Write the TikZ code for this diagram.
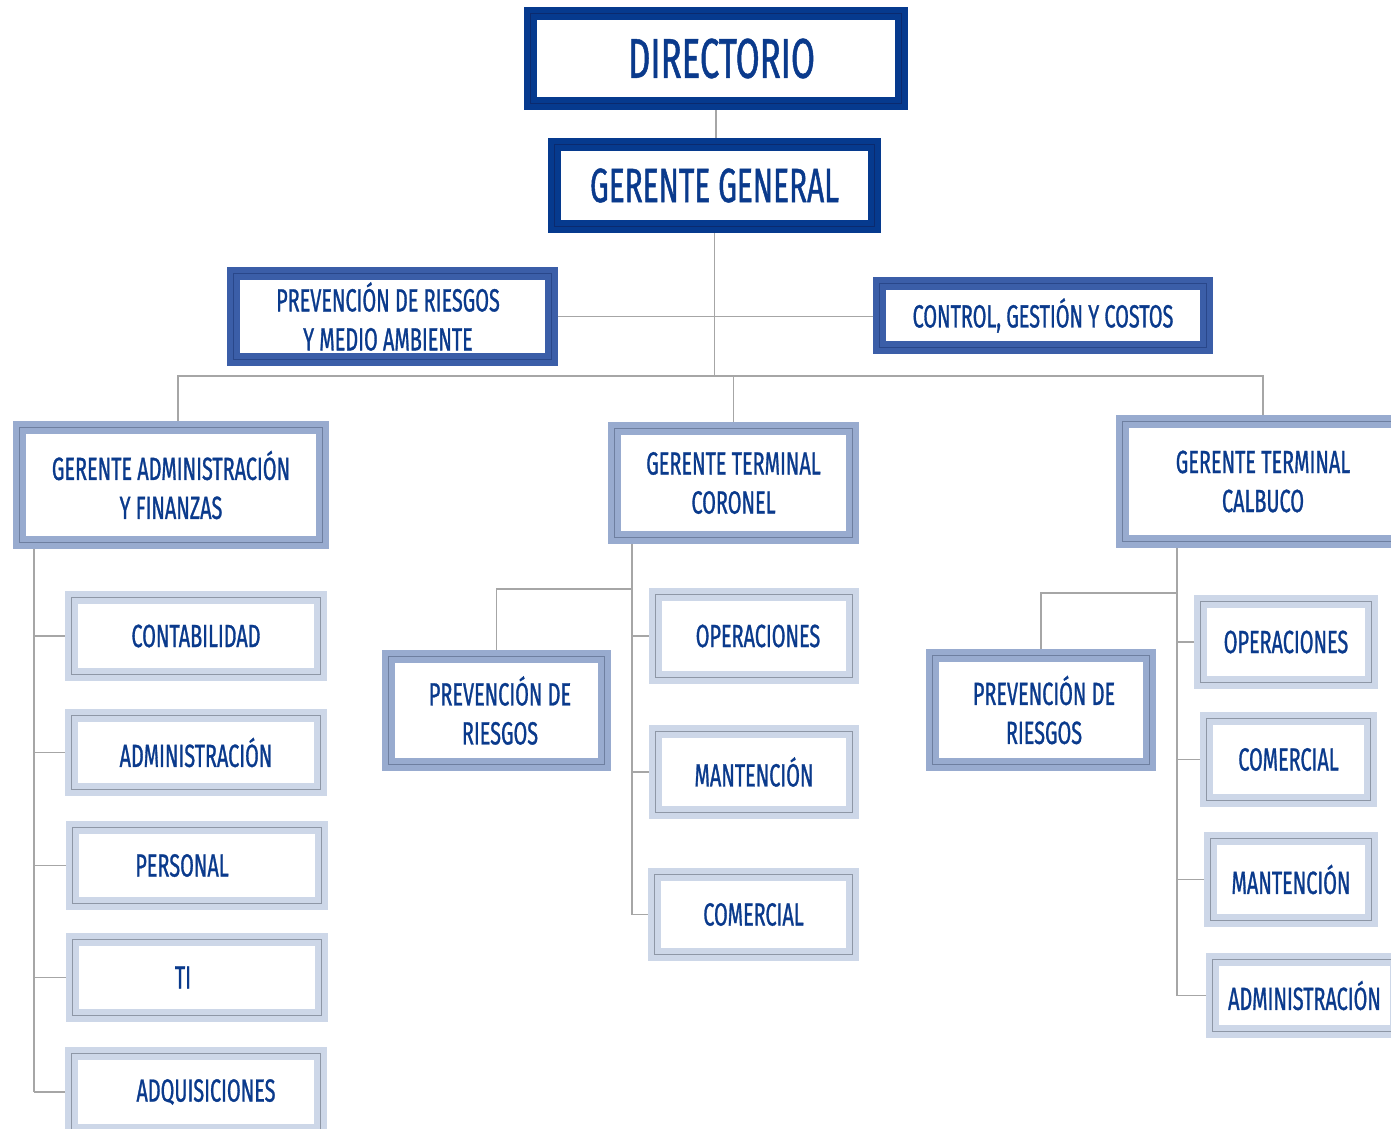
\documentclass[tikz,border=0pt]{standalone}
\usepackage{fontspec}
\newfontfamily\orgfont[FakeStretch=0.62,FakeBold=0.9]{Fira Sans}
\usepackage{tikz}
\usetikzlibrary{positioning,calc,backgrounds}
\definecolor{txtblue}{HTML}{0A3A8C}
\definecolor{bandA}{HTML}{063A8E}
\definecolor{lineA}{HTML}{0B2A6E}
\definecolor{bandB}{HTML}{3B5EA8}
\definecolor{lineB}{HTML}{29478A}
\definecolor{bandC}{HTML}{98ABCF}
\definecolor{lineC}{HTML}{6E7FA0}
\definecolor{bandD}{HTML}{CDD7E8}
\definecolor{lineD}{HTML}{8E97A6}
\definecolor{wire}{HTML}{A6A6A6}
\tikzset{
  orgbox/.style={rectangle, fill=white, line width=13pt, inner sep=0pt, text=txtblue,
    align=center, font=\orgfont\fontsize{32}{39}\selectfont},
  lvlA/.style={orgbox, draw=bandA, postaction={draw=lineA, line width=1pt}},
  lvlB/.style={orgbox, draw=bandB, postaction={draw=lineB, line width=1pt}},
  lvlC/.style={orgbox, draw=bandC, postaction={draw=lineC, line width=1pt}},
  lvlD/.style={orgbox, draw=bandD, postaction={draw=lineD, line width=1pt}},
  wire/.style={draw=wire, line width=1.3pt},
}
\begin{document}
\begin{tikzpicture}[x=1pt,y=-1pt]
  \useasboundingbox (0,0) rectangle (1391,1128);
  % top
  \node[lvlA, minimum width=371pt, minimum height=90pt, font=\orgfont\fontsize{56}{60}\selectfont] (dir) at (716,58.5) {\kern11pt DIRECTORIO};
  \node[lvlA, minimum width=320pt, minimum height=82pt, font=\orgfont\fontsize{48}{52}\selectfont] (gg) at (714.5,185.5) {GERENTE GENERAL};
  \node[lvlB, minimum width=318pt, minimum height=86pt] (prev) at (392.5,316.5) {\kern-9pt PREVENCIÓN DE RIESGOS\\\kern-9pt Y MEDIO AMBIENTE};
  \node[lvlB, minimum width=327pt, minimum height=64pt] (ctrl) at (1043,315.5) {CONTROL, GESTIÓN Y COSTOS};
  % gerentes
  \node[lvlC, minimum width=303pt, minimum height=115pt] (gaf) at (171,485) {GERENTE ADMINISTRACIÓN\\Y FINANZAS};
  \node[lvlC, minimum width=238pt, minimum height=109pt] (gtco) at (733.5,483) {GERENTE TERMINAL\\CORONEL};
  \node[lvlC, minimum width=281pt, minimum height=120pt] (gtca) at (1263,481.5) {GERENTE TERMINAL\\CALBUCO};
  % administracion y finanzas
  \node[lvlD, minimum width=249pt, minimum height=77pt] (con) at (196,636) {CONTABILIDAD};
  \node[lvlD, minimum width=249pt, minimum height=74pt] (adm) at (196,752.5) {ADMINISTRACIÓN};
  \node[lvlD, minimum width=249pt, minimum height=76pt] (per) at (197,865.5) {\kern-30pt PERSONAL};
  \node[lvlD, minimum width=249pt, minimum height=76pt] (ti) at (197,977.5) {\kern-28pt TI};
  \node[lvlD, minimum width=249pt, minimum height=77pt] (adq) at (196,1092) {\kern20pt ADQUISICIONES};
  % coronel
  \node[lvlC, minimum width=216pt, minimum height=108pt] (prco) at (496.5,710.5) {\kern7pt PREVENCIÓN DE\\\kern7pt RIESGOS};
  \node[lvlD, minimum width=197pt, minimum height=83pt] (opco) at (754,636) {\kern8pt OPERACIONES};
  \node[lvlD, minimum width=197pt, minimum height=81pt] (mnco) at (754,772) {MANTENCIÓN};
  \node[lvlD, minimum width=198pt, minimum height=80pt] (cmco) at (753.5,914.5) {COMERCIAL};
  % calbuco
  \node[lvlC, minimum width=217pt, minimum height=109pt] (prca) at (1041,710) {\kern6pt PREVENCIÓN DE\\\kern6pt RIESGOS};
  \node[lvlD, minimum width=171pt, minimum height=81pt] (opca) at (1286,642) {OPERACIONES};
  \node[lvlD, minimum width=164pt, minimum height=82pt] (cmca) at (1288.5,759.5) {COMERCIAL};
  \node[lvlD, minimum width=161pt, minimum height=82pt] (mnca) at (1291,879.5) {MANTENCIÓN};
  \node[lvlD, minimum width=184pt, minimum height=72pt] (adca) at (1304.5,995.5) {ADMINISTRACIÓN};
  % connectors
  \coordinate (busL) at (178,376);
  \coordinate (busR) at (1263,376);
  \coordinate (gafS) at (34,549);
  \coordinate (coS) at (632,544);
  \coordinate (coP) at (632,589);
  \coordinate (caS) at (1177,548);
  \coordinate (caP) at (1177,593);
  \begin{scope}[on background layer]
    \draw[wire] (dir.south) -- (dir.south |- gg.north);
    \draw[wire] (gg.south) -- (gg.south |- busL);
    \draw[wire] (prev.east) -- (prev.east -| ctrl.west);
    \draw[wire] (gaf.north -| busL) -- (busL) -- (busR) -- (gtca.north);
    \draw[wire] (gtco.north) -- (gtco.north |- busL);
    \draw[wire] (gafS) -- (gafS |- adq.west);
    \foreach \n in {con,adm,per,ti,adq}
      \draw[wire] (gafS |- \n.west) -- (\n.west);
    \draw[wire] (coS) -- (coS |- cmco.west);
    \draw[wire] (coP) -- (prco.north |- coP) -- (prco.north);
    \foreach \n in {opco,mnco,cmco}
      \draw[wire] (coS |- \n.west) -- (\n.west);
    \draw[wire] (caS) -- (caS |- adca.west);
    \draw[wire] (caP) -- (prca.north |- caP) -- (prca.north);
    \foreach \n in {opca,cmca,mnca,adca}
      \draw[wire] (caS |- \n.west) -- (\n.west);
  \end{scope}
\end{tikzpicture}
\end{document}
